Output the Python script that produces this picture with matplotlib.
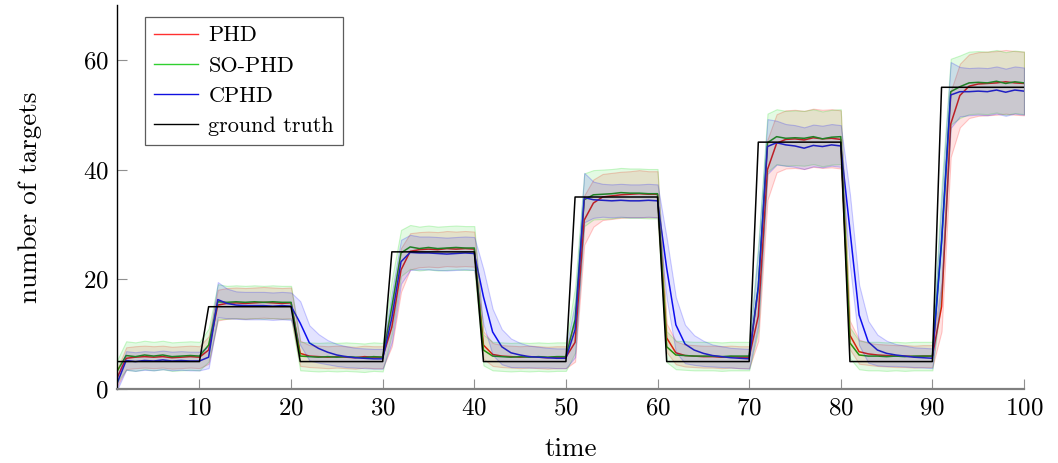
import numpy as np
import matplotlib
matplotlib.use("Agg")
import matplotlib.pyplot as plt
from matplotlib.lines import Line2D

plt.rcParams['font.family'] = ['cmr10', 'DejaVu Serif']
plt.rcParams['axes.formatter.use_mathtext'] = True
plt.rcParams['mathtext.fontset'] = 'cm'

# ---------------- data ----------------
time = list(range(1, 101))

ground_truth = [5, 5, 5, 5, 5, 5, 5, 5, 5, 5,
                15, 15, 15, 15, 15, 15, 15, 15, 15, 15,
                5, 5, 5, 5, 5, 5, 5, 5, 5, 5,
                25, 25, 25, 25, 25, 25, 25, 25, 25, 25,
                5, 5, 5, 5, 5, 5, 5, 5, 5, 5,
                35, 35, 35, 35, 35, 35, 35, 35, 35, 35,
                5, 5, 5, 5, 5, 5, 5, 5, 5, 5,
                45, 45, 45, 45, 45, 45, 45, 45, 45, 45,
                5, 5, 5, 5, 5, 5, 5, 5, 5, 5,
                55, 55, 55, 55, 55, 55, 55, 55, 55, 55]

phd_mean = [2.0, 5.6, 5.8, 5.9, 5.8, 5.9, 5.7, 5.8, 5.9, 5.8,
            7.1, 15.3, 15.6, 15.7, 15.6, 15.7, 15.8, 15.7, 15.6, 15.7,
            6.5, 6.0, 5.9, 5.8, 5.9, 5.8, 5.7, 5.9, 5.8, 5.8,
            11.3, 21.7, 25.1, 25.4, 25.5, 25.4, 25.6, 25.5, 25.6, 25.5,
            8.0, 6.3, 6.0, 5.9, 5.8, 5.9, 5.8, 5.7, 5.8, 5.8,
            8.5, 30.8, 33.9, 35.0, 35.2, 35.4, 35.5, 35.6, 35.5, 35.5,
            9.3, 6.6, 6.1, 6.0, 5.9, 5.9, 5.8, 5.9, 5.8, 5.8,
            13.3, 40.0, 44.8, 45.5, 45.6, 45.4, 45.8, 45.6, 45.7, 45.5,
            9.8, 6.8, 6.4, 6.2, 6.1, 6.0, 6.0, 5.9, 6.0, 6.0,
            15.0, 48.3, 53.5, 55.2, 55.6, 55.7, 55.8, 56.0, 55.8, 55.7]

sophd_mean = [3.2, 6.1, 5.9, 6.2, 6.0, 6.2, 5.9, 6.0, 6.1, 6.0,
              8.0, 15.9, 15.8, 15.9, 15.8, 15.9, 15.8, 15.9, 15.8, 15.8,
              6.0, 5.9, 5.8, 5.9, 5.8, 5.9, 5.8, 5.7, 5.9, 5.8,
              15.0, 24.8, 25.9, 25.6, 25.8, 25.6, 25.7, 25.8, 25.7, 25.7,
              7.1, 6.0, 5.9, 5.8, 5.9, 5.8, 5.9, 5.8, 5.9, 5.9,
              12.6, 34.5, 35.4, 35.5, 35.6, 35.8, 35.7, 35.7, 35.6, 35.6,
              7.7, 6.2, 6.1, 6.0, 6.0, 6.0, 5.9, 6.0, 6.0, 6.0,
              18.6, 44.9, 46.0, 45.7, 45.8, 45.7, 46.0, 45.6, 45.9, 46.0,
              8.4, 6.2, 6.0, 6.0, 5.9, 6.0, 5.9, 6.0, 6.0, 6.0,
              27.0, 54.2, 55.1, 55.8, 55.9, 55.8, 56.1, 55.7, 56.0, 55.8]

cphd_mean = [1.0, 5.2, 5.0, 5.2, 5.1, 5.3, 5.1, 5.2, 5.1, 5.1,
             5.8, 16.3, 15.6, 15.3, 15.2, 15.2, 15.2, 15.1, 15.2, 15.1,
             12.0, 8.4, 7.4, 6.7, 6.2, 5.9, 5.7, 5.6, 5.5, 5.5,
             13.0, 23.2, 24.9, 24.8, 24.8, 24.7, 24.6, 24.7, 24.8, 24.7,
             16.8, 10.4, 7.7, 6.6, 6.2, 5.9, 5.8, 5.7, 5.6, 5.6,
             10.8, 34.9, 34.5, 34.4, 34.3, 34.4, 34.3, 34.3, 34.4, 34.3,
             22.0, 11.7, 8.2, 7.1, 6.5, 6.1, 5.9, 5.7, 5.6, 5.5,
             18.6, 44.2, 44.9, 44.5, 44.3, 43.9, 44.4, 44.2, 44.5, 44.3,
             29.0, 13.5, 8.6, 7.1, 6.5, 6.2, 6.0, 5.8, 5.7, 5.6,
             26.6, 53.6, 54.2, 54.2, 54.3, 54.2, 54.5, 54.1, 54.5, 54.3]

phd_std = [1.5, 2.0, 2.0, 2.0, 2.0, 2.0, 2.0, 2.0, 2.0, 2.0,
           2.5, 2.8, 2.8, 2.8, 2.8, 2.8, 2.8, 2.8, 2.8, 2.8,
           2.3, 2.0, 2.0, 2.0, 2.0, 2.0, 2.0, 2.0, 2.0, 2.0,
           3.5, 4.0, 3.3, 3.2, 3.2, 3.2, 3.2, 3.2, 3.2, 3.2,
           2.5, 2.1, 2.0, 2.0, 2.0, 2.0, 2.0, 2.0, 2.0, 2.0,
           3.5, 4.5, 4.3, 4.2, 4.2, 4.2, 4.2, 4.3, 4.2, 4.2,
           2.6, 2.1, 2.0, 2.0, 2.0, 2.0, 2.0, 2.0, 2.0, 2.0,
           4.5, 5.5, 5.3, 5.3, 5.3, 5.3, 5.3, 5.3, 5.3, 5.3,
           2.6, 2.2, 2.0, 2.0, 2.0, 2.0, 2.0, 2.0, 2.0, 2.0,
           4.5, 6.0, 5.8, 5.8, 5.8, 5.8, 5.8, 5.8, 5.8, 5.8]

sophd_std = [2.0, 2.6, 2.6, 2.6, 2.6, 2.6, 2.6, 2.6, 2.6, 2.6,
             3.0, 3.2, 3.0, 3.0, 3.0, 3.0, 3.0, 3.0, 3.0, 3.0,
             2.6, 2.6, 2.6, 2.6, 2.6, 2.6, 2.6, 2.6, 2.6, 2.6,
             5.0, 4.2, 4.0, 4.0, 4.0, 4.0, 4.0, 4.0, 4.0, 4.0,
             2.8, 2.6, 2.6, 2.6, 2.6, 2.6, 2.6, 2.6, 2.6, 2.6,
             6.0, 4.8, 4.5, 4.5, 4.5, 4.5, 4.5, 4.5, 4.5, 4.5,
             2.8, 2.6, 2.6, 2.6, 2.6, 2.6, 2.6, 2.6, 2.6, 2.6,
             8.0, 5.3, 5.0, 5.0, 5.0, 5.0, 5.0, 5.0, 5.0, 5.0,
             2.8, 2.6, 2.6, 2.6, 2.6, 2.6, 2.6, 2.6, 2.6, 2.6,
             10.0, 6.0, 5.7, 5.7, 5.7, 5.7, 5.7, 5.7, 5.7, 5.7]

cphd_std = [1.2, 1.7, 1.7, 1.7, 1.7, 1.7, 1.7, 1.7, 1.7, 1.7,
            2.0, 3.2, 2.7, 2.5, 2.5, 2.5, 2.5, 2.5, 2.5, 2.5,
            4.0, 3.2, 2.6, 2.2, 2.0, 1.9, 1.8, 1.8, 1.8, 1.8,
            4.5, 4.0, 3.2, 3.0, 3.0, 3.0, 3.0, 3.0, 3.0, 3.0,
            5.0, 4.2, 3.2, 2.6, 2.2, 2.0, 1.9, 1.8, 1.8, 1.8,
            5.0, 4.5, 3.3, 3.0, 3.0, 3.0, 3.0, 3.0, 3.0, 3.0,
            5.5, 5.0, 3.5, 2.7, 2.3, 2.0, 1.9, 1.8, 1.8, 1.8,
            7.0, 5.0, 4.0, 3.8, 3.8, 3.8, 3.8, 3.8, 3.8, 3.8,
            6.5, 5.5, 3.8, 2.8, 2.3, 2.0, 1.9, 1.8, 1.8, 1.8,
            8.0, 6.0, 4.5, 4.3, 4.3, 4.3, 4.3, 4.3, 4.3, 4.3]

series_labels = ["PHD", "SO-PHD", "CPHD", "ground truth"]
y_ticks = [0, 20, 40, 60]
x_ticks = [10, 20, 30, 40, 50, 60, 70, 80, 90, 100]

# ---------------- plot ----------------
fig = plt.figure(figsize=(10.58, 4.63), dpi=100)
ax = fig.add_axes([117 / 1058, 1 - 389 / 463, 907 / 1058, 384 / 463])

t = np.array(time)
series = [
    (np.array(phd_mean), np.array(phd_std), '#ee1111', (1.0, 0.0, 0.0)),
    (np.array(sophd_mean), np.array(sophd_std), '#109a10', (0.0, 0.85, 0.0)),
    (np.array(cphd_mean), np.array(cphd_std), '#1010ee', (0.0, 0.0, 1.0)),
]

for m, s, lc, fc in series:
    ax.plot(t, m, color=lc, lw=1.1, zorder=2)
for m, s, lc, fc in series:
    ax.fill_between(t, m - s, m + s, facecolor=fc + (0.11,),
                    edgecolor=fc + (0.2,), lw=0.8, zorder=3)
ax.plot(t, ground_truth, color='black', lw=1.1, zorder=4)

ax.set_xlim(1, 100)
ax.set_ylim(0, 70)
ax.set_xticks(x_ticks)
ax.set_yticks(y_ticks)

for sp in ['top', 'right']:
    ax.spines[sp].set_visible(False)
ax.spines['left'].set_color('black')
ax.spines['left'].set_linewidth(1.0)
ax.spines['bottom'].set_color('#808080')
ax.spines['bottom'].set_linewidth(1.6)
ax.spines['left'].set_zorder(5)
ax.spines['bottom'].set_zorder(5)

ax.tick_params(axis='both', direction='in', length=7, width=0.8,
               color='#909090', labelsize=18, pad=6)

ax.set_xlabel('time', fontsize=19.5, labelpad=13)
ax.set_ylabel('number of targets', fontsize=19.5, labelpad=29)

handles = [Line2D([], [], color='#ff3030', lw=1.0),
           Line2D([], [], color='#30d030', lw=1.0),
           Line2D([], [], color='#1010e0', lw=1.0),
           Line2D([], [], color='black', lw=1.0)]
leg = ax.legend(handles, series_labels, loc='upper left',
                bbox_to_anchor=(0.031, 0.969), borderaxespad=0,
                fontsize=16, frameon=True, fancybox=False,
                handlelength=2.0, handletextpad=0.45, labelspacing=0.48,
                borderpad=0.4)
leg.get_frame().set_edgecolor('#333333')
leg.get_frame().set_linewidth(0.9)
leg.set_zorder(10)

fig.savefig('out.png', dpi=100)
